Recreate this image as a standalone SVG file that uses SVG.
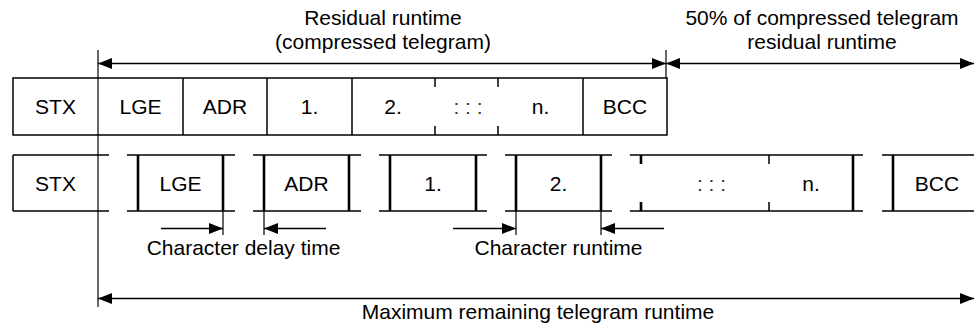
<svg xmlns="http://www.w3.org/2000/svg" width="974" height="327" viewBox="0 0 974 327">
<style>
text{font-family:"Liberation Sans",Arial,sans-serif;font-size:21px;fill:#000;text-anchor:middle}
.ln{stroke:#000;stroke-width:1.5;fill:none}
.th{stroke:#000;stroke-width:1.2;fill:none}
.bd{stroke:#000;stroke-width:2.6;fill:none}
.ar{stroke:#000;stroke-width:1.6;fill:none;marker-end:url(#ah)}
.ar2{stroke:#000;stroke-width:1.6;fill:none;marker-start:url(#ah);marker-end:url(#ah)}
.dots{fill:#333}
</style>
<defs>
<marker id="ah" viewBox="0 0 14 11" refX="14" refY="5.5" markerWidth="14" markerHeight="11" markerUnits="userSpaceOnUse" orient="auto-start-reverse">
<path d="M0,0 L14,5.5 L0,11 z" fill="#000"/>
</marker>
</defs>
<rect width="974" height="327" fill="#fff"/>

<g id="labels-top">
<text x="383" y="25">Residual runtime</text>
<text x="383" y="49">(compressed telegram)</text>
<text x="822" y="25">50% of compressed telegram</text>
<text x="822" y="49">residual runtime</text>
</g>

<g id="row1">
<rect class="ln" x="13" y="78" width="654" height="57"/>
<path class="ln" d="M183,78V135M267,78V135M352,78V135M583,78V135"/>
<path class="ln" d="M435,78V87M435,126V135M498,78V87M498,126V135"/>
<g id="r1-stx"><text x="55.5" y="114">STX</text></g>
<g id="r1-lge"><text x="140.5" y="114">LGE</text></g>
<g id="r1-adr"><text x="225" y="114">ADR</text></g>
<g id="r1-1"><text x="309.5" y="114">1.</text></g>
<g id="r1-2"><text x="393" y="114">2.</text></g>
<g id="r1-dots"><text class="dots" x="468" y="114">: : :</text></g>
<g id="r1-n"><text x="540.5" y="114">n.</text></g>
<g id="r1-bcc"><text x="625" y="114">BCC</text></g>
</g>

<g id="row2">
<g id="r2-stx">
<path class="ln" d="M13,155H109M13,211H109M13,155V211"/>
<text x="55.5" y="190.5">STX</text>
</g>
<g id="r2-lge">
<path class="ln" d="M127,155H235M127,211H235"/>
<path class="bd" d="M138,155V211M223,155V211"/>
<text x="180.5" y="190.5">LGE</text>
</g>
<g id="r2-adr">
<path class="ln" d="M253,155H361M253,211H361"/>
<path class="bd" d="M264,155V211M349,155V211"/>
<text x="306.5" y="190.5">ADR</text>
</g>
<g id="r2-1">
<path class="ln" d="M379,155H487M379,211H487"/>
<path class="bd" d="M390,155V211M476,155V211"/>
<text x="433" y="190.5">1.</text>
</g>
<g id="r2-2">
<path class="ln" d="M505,155H612M505,211H612"/>
<path class="bd" d="M516,155V211M601,155V211"/>
<text x="558.5" y="190.5">2.</text>
</g>
<g id="r2-n">
<path class="ln" d="M630,155H863M630,211H863"/>
<path class="bd" d="M641,155V164M641,202V211M853,155V211"/>
<path class="ln" d="M769,155V164M769,202V211"/>
<text class="dots" x="711.5" y="190.5">: : :</text>
<text x="811" y="190.5">n.</text>
</g>
<g id="r2-bcc">
<path class="ln" d="M882,155H974M882,211H974"/>
<path class="bd" d="M893,155V211"/>
<text x="937" y="190.5">BCC</text>
</g>
</g>

<g id="connectors">
<path class="th" d="M98,50V307"/>
<path class="th" d="M666,50V78"/>
<path class="ar2" d="M98,63.5H666"/>
<path class="ar2" d="M666,63.5H974"/>
<path class="th" d="M223,211V235M264,211V235M516,211V235M601,211V235"/>
<path class="ar" d="M161,228.5H223"/>
<path class="ar" d="M326,228.5H264"/>
<path class="ar" d="M453,228.5H516"/>
<path class="ar" d="M664,228.5H601"/>
<path class="ar2" d="M98,298.5H974"/>
</g>

<g id="labels-bottom">
<text x="243.5" y="255">Character delay time</text>
<text x="558.5" y="255">Character runtime</text>
<text x="538" y="319">Maximum remaining telegram runtime</text>
</g>
</svg>
